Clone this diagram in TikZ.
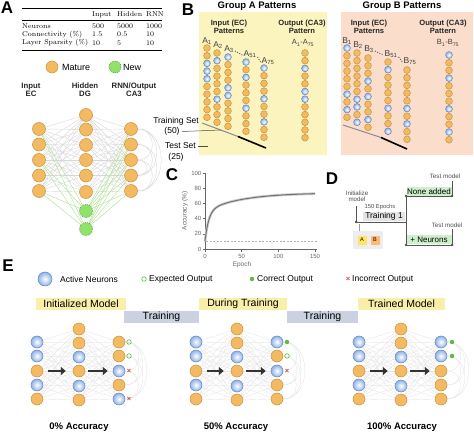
\documentclass[tikz,border=0pt]{standalone}
\usepackage{fontspec}
\setmainfont{Liberation Sans}
\newfontfamily\lmr{Latin Modern Roman}
\usetikzlibrary{arrows.meta}
\newcommand{\fsz}[1]{\fontsize{#1}{#1}\selectfont}
\definecolor{orF}{HTML}{F4BA62}
\definecolor{orD}{HTML}{C8923E}
\definecolor{blF}{HTML}{8DB2EA}
\definecolor{blD}{HTML}{6283BE}
\definecolor{grF}{HTML}{8FE36B}
\definecolor{grD}{HTML}{4E8F33}
\definecolor{yelBg}{HTML}{FCF4BE}
\definecolor{peachBg}{HTML}{FADDCB}
\definecolor{hdr}{HTML}{F8F0AA}
\definecolor{trn}{HTML}{CAD2E2}
\definecolor{edgeC}{HTML}{D8D8D8}
\definecolor{edgeE}{HTML}{E6E6E6}
\definecolor{grEdge}{HTML}{B3E296}
\definecolor{dGreen}{HTML}{CDEFCB}
\definecolor{lineD}{HTML}{555555}
\definecolor{mkG}{HTML}{5DBB3F}
\definecolor{mkR}{HTML}{D04545}
\pgfdeclarelayer{back}
\pgfdeclarelayer{bg}
\pgfsetlayers{back,bg,main}
\tikzset{
  mat/.style={circle, draw=orD, fill=orF, line width=0.5pt, inner sep=0pt, minimum size=#1},
  mat/.default=13,
  act/.style={circle, draw=blD, inner color=white, outer color=blF, line width=0.5pt, inner sep=0pt, minimum size=#1},
  act/.default=13,
  newn/.style={circle, draw=grD, fill=grF, dashed, dash pattern=on 1pt off 1pt, line width=0.5pt, inner sep=0pt, minimum size=13},
  pat0/.style={mat=6.8},
  pat1/.style={act=6.8},
  en0/.style={mat=12},
  en1/.style={act=12},
  panel/.style={font=\bfseries\fsz{17}, inner sep=0pt},
  edgeA/.style={draw=edgeC, line width=0.4pt},
  edgeG/.style={draw=grEdge, line width=0.45pt},
  edgeEs/.style={draw=edgeE, line width=0.4pt},
  bigarrow/.style={draw=black!80, line width=2.6pt, -{Triangle[length=5pt,width=8pt]}},
  hdrbox/.style={fill=hdr, minimum height=12pt, inner sep=0pt, font=\fsz{10.5}},
  trnbox/.style={fill=trn, minimum height=12pt, inner sep=0pt, font=\fsz{10.5}},
  dline/.style={draw=lineD, line width=1pt},
  ddot/.style={circle, fill=lineD, inner sep=0pt, minimum size=2.6pt},
  plab/.style={font=\fsz{8.5}, text=black!75, inner sep=0pt},
}
\newcommand{\pcol}[4]{\foreach \v [count=\i] in {#4} {\node[pat\v] (#1-\i) at (#2, {#3+(\i-1)*7.7}) {};}}
\begin{document}
\begin{tikzpicture}[x=1pt,y=-1pt,font=\fsz{7}]
\useasboundingbox (0,0) rectangle (474,433);
% ---------- panel letters
\node[panel] (lA) at (7,8) {A};
\node[panel] (lB) at (188,10) {B};
\node[panel] (lC) at (172,175) {C};
\node[panel] (lD) at (332,179) {D};
\node[panel] (lE) at (8,266) {E};
% ---------- panel A: table
\draw[line width=0.8pt] (22,8.5) -- (162,8.5);
\draw[line width=0.4pt] (22,20) -- (162,20);
\draw[line width=0.8pt] (22,50) -- (162,50);
\begin{scope}[every node/.style={font=\lmr\fsz{7}, anchor=west, inner sep=0pt}]
\node (tH1) at (92,14.5) {Input};
\node (tH2) at (117,14.5) {Hidden};
\node (tH3) at (146,14.5) {RNN};
\node (tR1) at (22,26) {Neurons};
\node (tR2) at (22,34.5) {Connectivity (\%)};
\node (tR3) at (22,43) {Layer Sparsity (\%)};
\node (t11) at (92,26) {500};
\node (t12) at (117,26) {5000};
\node (t13) at (146,26) {1000};
\node (t21) at (92,34.5) {1.5};
\node (t22) at (117,34.5) {0.5};
\node (t23) at (146,34.5) {10};
\node (t31) at (92,43) {10};
\node (t32) at (117,43) {5};
\node (t33) at (146,43) {10};
\end{scope}
% legend A
\node[mat=12] (legM) at (52,67) {};
\node[anchor=west, font=\fsz{9}, inner sep=0pt] (legMt) at (62,67) {Mature};
\node[newn, minimum size=12] (legN) at (115,67) {};
\node[anchor=west, font=\fsz{9}, inner sep=0pt] (legNt) at (123,67) {New};
% network A labels
\node[font=\bfseries\fsz{7.8}, align=center, text=black!85] (labIn) at (31,90) {Input\\EC};
\node[font=\bfseries\fsz{7.8}, align=center, text=black!85] (labHid) at (85,90) {Hidden\\DG};
\node[font=\bfseries\fsz{7.8}, align=center, text=black!85] (labOut) at (134,90) {RNN/Output\\CA3};
% network A nodes
\foreach \y [count=\i] in {129,144.5,160,175.5,191} {
  \node[mat] (ai\i) at (39,\y) {};
  \node[mat] (ao\i) at (131,\y) {};
}
\foreach \y [count=\i] in {115,129.5,145,160,175.5,192} {
  \node[mat] (ah\i) at (86,\y) {};
}
\node[newn] (ag1) at (86,211) {};
\node[newn] (ag2) at (86,229) {};
\begin{pgfonlayer}{bg}
\foreach \i in {1,...,5} {\foreach \j in {1,...,6} {
  \draw[edgeA] (ai\i) -- (ah\j);
  \draw[edgeA] (ah\j) -- (ao\i);
}}
\foreach \i in {1,3,5} {\foreach \j in {1,2} {
  \draw[edgeG] (ai\i) -- (ag\j);
}}
\foreach \i in {1,...,5} {\foreach \j in {1,2} {
  \draw[edgeG] (ag\j) -- (ao\i);
}}
\foreach \a/\b/\l in {1/3/1.6,1/5/1.3,2/4/1.6,2/5/1.4,3/5/1.6,1/4/1.4,3/4/2} {
  \draw[edgeA] (ao\a.east) to[out=0,in=0,looseness=\l] (ao\b.east);
}
\end{pgfonlayer}
% ---------- panel B
\begin{pgfonlayer}{back}
\fill[yelBg] (199,12) rectangle (327,155);
\fill[peachBg] (341,12) rectangle (473,155);
\end{pgfonlayer}
\node[font=\bfseries\fsz{9.5}] (tA) at (257,6) {Group A Patterns};
\node[font=\bfseries\fsz{9.5}] (tB) at (402,6) {Group B Patterns};
\node[font=\bfseries\fsz{7.6}, align=center, text=black!85] (inA) at (229,27) {Input (EC)\\Patterns};
\node[font=\bfseries\fsz{7.6}, align=center, text=black!85] (outA) at (302,27) {Output (CA3)\\Pattern};
\node[font=\bfseries\fsz{7.6}, align=center, text=black!85] (inB) at (369,27) {Input (EC)\\Patterns};
\node[font=\bfseries\fsz{7.6}, align=center, text=black!85] (outB) at (443,27) {Output (CA3)\\Pattern};
% column labels
\node[plab] (lA1) at (207,41) {A\textsubscript{1}};
\node[plab] (lA2) at (218,45) {A\textsubscript{2}};
\node[plab] (lA3) at (229,49) {A\textsubscript{3}};
\node[plab] (lA51) at (250,54) {A\textsubscript{51}};
\node[plab] (lA75) at (268,61) {A\textsubscript{75}};
\node[plab, font=\fsz{7.5}] (lAo) at (303,43) {A\textsubscript{1}-A\textsubscript{75}};
\node[plab] (lB1) at (347,41) {B\textsubscript{1}};
\node[plab] (lB2) at (358,45) {B\textsubscript{2}};
\node[plab] (lB3) at (369,49) {B\textsubscript{3}};
\node[plab] (lB51) at (391,54) {B\textsubscript{51}};
\node[plab] (lB75) at (410,61) {B\textsubscript{75}};
\node[plab, font=\fsz{7.5}] (lBo) at (448,43) {B\textsubscript{1}-B\textsubscript{75}};
\draw[black!70, line width=0.9pt, dash pattern=on 0.9pt off 1.6pt] (lA3.east) ++(1,2) -- ([xshift=-1pt,yshift=-1pt]lA51.west);
\draw[black!70, line width=0.9pt, dash pattern=on 0.9pt off 1.6pt] (lA51.east) ++(1,3) -- ([xshift=-1pt,yshift=-1pt]lA75.west);
\draw[black!70, line width=0.9pt, dash pattern=on 0.9pt off 1.6pt] (lB3.east) ++(1,2) -- ([xshift=-1pt,yshift=-1pt]lB51.west);
\draw[black!70, line width=0.9pt, dash pattern=on 0.9pt off 1.6pt] (lB51.east) ++(1,3) -- ([xshift=-1pt,yshift=-1pt]lB75.west);
% pattern columns
\pcol{cA1}{207}{48}{0,0,1,1,1,0,0,0,0,0}
\pcol{cA2}{217}{53}{0,1,0,0,0,0,1,0,0,0}
\pcol{cA3}{228}{57}{1,0,0,0,1,1,0,0,0,0}
\pcol{cA51}{246}{62}{1,0,1,0,0,0,1,0,0,0}
\pcol{cA75}{264}{68}{1,0,0,0,1,0,0,1,0,0}
\pcol{cAo}{305}{53}{0,0,1,0,0,1,1,0,0,0,0,0}
\pcol{cB1}{347}{48}{1,0,0,0,0,0,1,0,1,0}
\pcol{cB2}{357}{53}{0,0,0,0,0,0,1,1,0,1}
\pcol{cB3}{368}{58}{0,0,0,1,0,1,0,0,1,0}
\pcol{cB51}{388}{62}{0,1,0,0,0,0,1,0,0,1}
\pcol{cB75}{407}{70}{0,0,0,0,0,1,0,1,0,0}
\pcol{cBo}{449}{55}{1,0,0,1,0,0,0,1,0,0,1,0}
% training / test set lines
\coordinate (trA0) at (202,123);
\coordinate (trA1) at (238,136.5);
\coordinate (trA2) at (266,148);
\coordinate (trB0) at (343,125);
\coordinate (trB1) at (381,137.5);
\coordinate (trB2) at (407,149);
\draw[black!45, line width=1pt] (trA0) -- (trA1);
\draw[black, line width=1.6pt] (trA1) -- (trA2);
\draw[black!45, line width=1pt] (trB0) -- (trB1);
\draw[black, line width=1.6pt] (trB1) -- (trB2);
\node[anchor=east, font=\fsz{8.5}, inner sep=0pt] (trS) at (199,121) {Training Set};
\node[font=\fsz{8.5}, inner sep=0pt] (trN) at (172,131.5) {(50)};
\node[anchor=east, font=\fsz{8.5}, inner sep=0pt] (teS) at (196,146) {Test Set};
\node[font=\fsz{8.5}, inner sep=0pt] (teN) at (176,157) {(25)};
\coordinate (trL) at (221,130);
\coordinate (teL) at (208,146);
\draw[black!70, line width=0.5pt] (trN.east) ++(2,0) -- (trL);
\draw[black!70, line width=0.5pt] (teS.east) ++(2,0) -- (teL);
% ---------- panel C
\draw[black!60, line width=0.5pt] (205,173) -- (205,249) -- (317,249);
\foreach \k in {0,...,5} {
  \draw[black!60, line width=0.5pt] (202.5,{249-15.2*\k}) -- (205,{249-15.2*\k});
  \node[anchor=east, font=\fsz{6}, text=black!60, inner sep=0pt] (cy\k) at (201.5,{249-15.2*\k}) {\the\numexpr20*\k\relax};
}
\foreach \k in {0,...,3} {
  \draw[black!60, line width=0.5pt] ({205+36.67*\k},249) -- ({205+36.67*\k},251.5);
  \node[font=\fsz{6}, text=black!60, inner sep=0pt] (cx\k) at ({205+36.67*\k},256) {\the\numexpr50*\k\relax};
}
\node[font=\fsz{6.5}, text=black!60, inner sep=0pt] (cxl) at (242,264.5) {Epoch};
\node[font=\fsz{6.5}, text=black!60, inner sep=0pt, rotate=90] (cyl) at (185,211) {Accuracy (\%)};
\draw[black!30, line width=0.6pt, dash pattern=on 2pt off 1.5pt] (206,241.4) -- (317,241.4);
\draw[black!20, line width=2.6pt] plot[domain=0:150, samples=120, smooth] ({205+0.7333*\x}, {249-0.76*(10+40*(1-exp(-\x/5))+24*(1-exp(-\x/50)))});
\draw[black!55, line width=1pt] plot[domain=0:150, samples=120, smooth] ({205+0.7333*\x}, {249-0.76*(10+40*(1-exp(-\x/5))+24*(1-exp(-\x/50)))});
% ---------- panel D
\node[font=\fsz{6.2}, align=center, text=black!70, inner sep=0pt] (dInit) at (357,196) {Initialize\\model};
\coordinate (d0) at (356,206);
\coordinate (d1) at (356,222);
\coordinate (d2) at (406,222);
\coordinate (d3) at (406,196);
\coordinate (d4) at (406,245);
\coordinate (d5) at (452,196);
\coordinate (d6) at (452,245);
\coordinate (d7) at (452,181);
\coordinate (d8) at (452,229);
\node[fill=black!10, minimum width=42, minimum height=9, inner sep=0pt, font=\fsz{8.5}] (dTr) at (384,216.5) {Training 1};
\node[font=\fsz{5.8}, text=black!70, inner sep=0pt] (dEp) at (380,207) {150 Epochs};
\node[fill=dGreen, minimum width=45, minimum height=9.5, inner sep=0pt, font=\fsz{8}] (dNone) at (429,191.5) {None added};
\node[fill=dGreen, minimum width=45, minimum height=9.5, inner sep=0pt, font=\fsz{8}] (dNeu) at (429,239.5) {+ Neurons};
\node[font=\fsz{6.3}, text=black!70, inner sep=0pt] (dT1) at (445,176) {Test model};
\node[font=\fsz{6.3}, text=black!70, inner sep=0pt] (dT2) at (447,225) {Test model};
\draw[dline] (d0) -- (d1) -- (d2);
\draw[dline] (d3) -- (d4);
\draw[dline] (d3) -- (d5) -- (d7);
\draw[dline] (d4) -- (d6) -- (d8);
\foreach \c in {d1,d3,d4,d5,d6} {\node[ddot] at (\c) {};}
\fill[black!7] (353,231) rectangle (383,249);
\coordinate (dAB) at (359,231);
\draw[black!40, line width=0.5pt] (359,224) -- (dAB);
\node[fill=yellow!75!orange!60, minimum size=9, inner sep=0pt, font=\fsz{5.5}] (dA) at (362,240) {A};
\node[fill=orange!55, minimum size=9, inner sep=0pt, font=\fsz{5.5}] (dB) at (375,240) {B};
% ---------- panel E legend
\node[act=14] (eLa) at (45,279) {};
\node[anchor=west, font=\fsz{8.5}, inner sep=0pt] (eLat) at (60,279) {Active Neurons};
\node[circle, draw=mkG, line width=0.6pt, minimum size=4.5, inner sep=0pt] (eLe) at (144,279) {};
\node[anchor=west, font=\fsz{8.5}, inner sep=0pt] (eLet) at (149,279) {Expected Output};
\node[circle, fill=mkG, minimum size=4.5, inner sep=0pt] (eLc) at (252,279) {};
\node[anchor=west, font=\fsz{8.5}, inner sep=0pt] (eLct) at (257,279) {Correct Output};
\node[text=mkR, font=\bfseries\fsz{7.5}, inner sep=0pt] (eLx) at (348,279) {\texttimes};
\node[anchor=west, font=\fsz{8.5}, inner sep=0pt] (eLxt) at (352,279) {Incorrect Output};
% headers
\node[hdrbox, minimum width=90] (h1) at (81,304) {Initialized Model};
\node[trnbox, minimum width=75] (h2) at (161.5,317) {Training};
\node[hdrbox, minimum width=88] (h3) at (243,304) {During Training};
\node[trnbox, minimum width=71] (h4) at (322.5,317) {Training};
\node[hdrbox, minimum width=87] (h5) at (401.5,304) {Trained Model};
% networks E
\def\yin{{342,356,371,385,399}}
\def\yhid{{329,343,357,371,386,400}}
\newcommand{\enet}[7]{%
  \foreach \v [count=\i] in {#5} {\node[en\v] (#1i\i) at (#2, {\yin[\i-1]}) {};}
  \foreach \v [count=\i] in {#6} {\node[en\v] (#1h\i) at (#3, {\yhid[\i-1]}) {};}
  \foreach \v [count=\i] in {#7} {\node[en\v] (#1o\i) at (#4, {\yin[\i-1]}) {};}
  \begin{pgfonlayer}{bg}
  \foreach \i in {1,...,5} {\foreach \j in {1,...,6} {
    \draw[edgeEs] (#1i\i) -- (#1h\j);
    \draw[edgeEs] (#1h\j) -- (#1o\i);
  }}
  \foreach \a/\b/\l in {1/3/1.6,1/5/1.3,2/4/1.6,2/5/1.4,3/5/1.6,1/4/1.4} {
    \draw[edgeEs] (#1o\a.east) to[out=0,in=0,looseness=\l] (#1o\b.east);
  }
  \end{pgfonlayer}
  \draw[bigarrow, shorten <=5pt, shorten >=7pt] (#1i3) -- (#1h4);
  \draw[bigarrow, shorten <=3pt, shorten >=5pt] (#1h4) -- (#1o3);
}
\enet{n1}{37}{79}{119}{1,1,0,1,0}{0,0,1,0,1,0}{0,0,1,0,1}
\enet{n2}{196}{237}{277}{1,1,0,1,0}{0,0,1,0,1,0}{1,0,1,0,0}
\enet{n3}{359}{401}{441}{1,1,0,1,0}{0,0,1,0,1,0}{1,1,0,0,0}
% markers
\tikzset{mkO/.style={circle, draw=mkG, line width=0.6pt, minimum size=4.5, inner sep=0pt},
         mkC/.style={circle, fill=mkG, minimum size=4.5, inner sep=0pt},
         mkX/.style={text=mkR, font=\bfseries\fsz{7.5}, inner sep=0pt}}
\node[mkO] (m11) at (129,342) {};
\node[mkO] (m12) at (129,356) {};
\node[mkX] (m13) at (129,371) {\texttimes};
\node[mkX] (m15) at (129,399) {\texttimes};
\node[mkC] (m21) at (287,342) {};
\node[mkO] (m22) at (287,356) {};
\node[mkX] (m23) at (287,371) {\texttimes};
\node[mkC] (m31) at (452,342) {};
\node[mkC] (m32) at (452,356) {};
% accuracy labels
\node[font=\bfseries\fsz{9.5}] (acc1) at (79,427) {0\% Accuracy};
\node[font=\bfseries\fsz{9.5}] (acc2) at (236,427) {50\% Accuracy};
\node[font=\bfseries\fsz{9.5}] (acc3) at (402,427) {100\% Accuracy};
\end{tikzpicture}
\end{document}
